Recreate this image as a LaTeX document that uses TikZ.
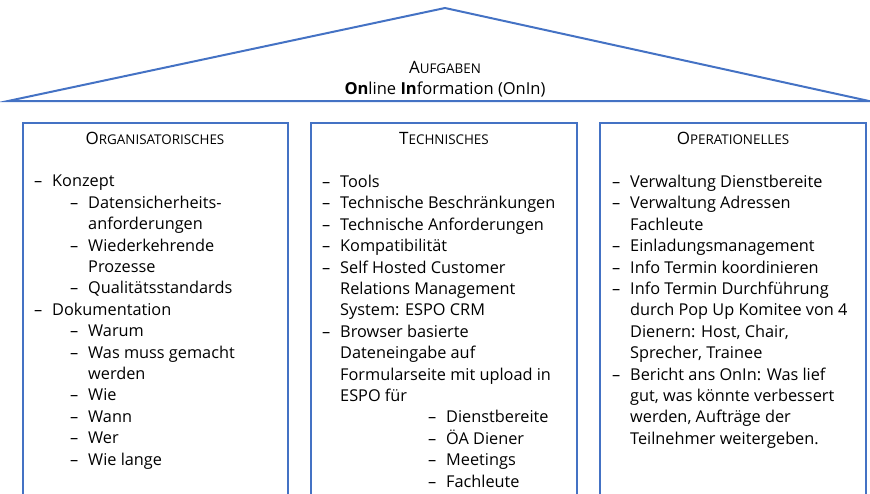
\documentclass[tikz,border=0pt]{standalone}
\usepackage{fontspec}
\setmainfont{Open Sans}
\usepackage{tikz}
\definecolor{dachblau}{HTML}{4472C4}
% dash and indentation for the lists
\newcommand\strich{\makebox[18pt][l]{--}}
\newcommand\einr{\hspace*{18pt}}
\newcommand\kap[2]{#1{\fontsize{13.4}{15}\selectfont #2}}
\tikzset{
  linie/.style={draw=dachblau, line width=2pt},
  liste/.style={anchor=north west, inner sep=0pt, align=left, font=\fontsize{16.3}{21.4}\selectfont},
  kopf/.style={inner sep=0pt, font=\fontsize{17}{19}\selectfont},
}

\begin{document}
\begin{tikzpicture}[x=1pt,y=-1pt]
\useasboundingbox (0,0) rectangle (870,493);

% to draw the roof
\coordinate (giebel) at (445,8);
\coordinate (traufeL) at (8,101);
\coordinate (traufeR) at (869,101);
\draw [linie, line join=miter] (traufeL) -- (giebel) -- (traufeR) -- cycle;

\node [kopf] (aufgaben) at (445,67) {\kap{A}{UFGABEN}};
\node [inner sep=0pt, font=\fontsize{16.5}{19}\selectfont] (onin) at (445,89) {\textbf{On}line \textbf{In}formation (OnIn)};

% to draw the three pillars
\draw [linie] (23,500) |- (288,123) -- (288,500);
\draw [linie] (311,500) |- (577,123) -- (577,500);
\draw [linie] (600,500) |- (866,123) -- (866,500);

% to write headers
\node [kopf] (org) at (155,138) {\kap{O}{RGANISATORISCHES}};
\node [kopf] (tech) at (444,138) {\kap{T}{ECHNISCHES}};
\node [kopf] (oper) at (733,138) {\kap{O}{PERATIONELLES}};

% Organisatorisches
\node [liste] (orgliste) at (34,175) {\strich Konzept\\
\hspace*{36pt}\strich Datensicherheits-\\
\hspace*{54pt}anforderungen\\
\hspace*{36pt}\strich Wiederkehrende\\
\hspace*{54pt}Prozesse\\
\hspace*{36pt}\strich Qualitätsstandards\\
\strich Dokumentation\\
\hspace*{36pt}\strich Warum\\
\hspace*{36pt}\strich Was muss gemacht\\
\hspace*{54pt}werden\\
\hspace*{36pt}\strich Wie\\
\hspace*{36pt}\strich Wann\\
\hspace*{36pt}\strich Wer\\
\hspace*{36pt}\strich Wie lange};

% Technisches
\node [liste] (techliste) at (322,175) {\strich Tools\\
\strich Technische Beschränkungen\\
\strich Technische Anforderungen\\
\strich Kompatibilität\\
\strich Self Hosted Customer\\
\einr Relations Management\\
\einr System: ESPO CRM\\
\strich Browser basierte\\
\einr Dateneingabe auf\\
\einr Formularseite mit upload in\\
\einr ESPO für\\
\hspace*{106pt}\strich Dienstbereite\\
\hspace*{106pt}\strich ÖA Diener\\
\hspace*{106pt}\strich Meetings\\
\hspace*{106pt}\strich Fachleute};

% Operationelles
\node [liste] (operliste) at (612,175) {\strich Verwaltung Dienstbereite\\
\strich Verwaltung Adressen\\
\einr Fachleute\\
\strich Einladungsmanagement\\
\strich Info Termin koordinieren\\
\strich Info Termin Durchführung\\
\einr durch Pop Up Komitee von 4\\
\einr Dienern: Host, Chair,\\
\einr Sprecher, Trainee\\
\strich Bericht ans OnIn: Was lief\\
\einr gut, was könnte verbessert\\
\einr werden, Aufträge der\\
\einr Teilnehmer weitergeben.};
\end{tikzpicture}
\end{document}
